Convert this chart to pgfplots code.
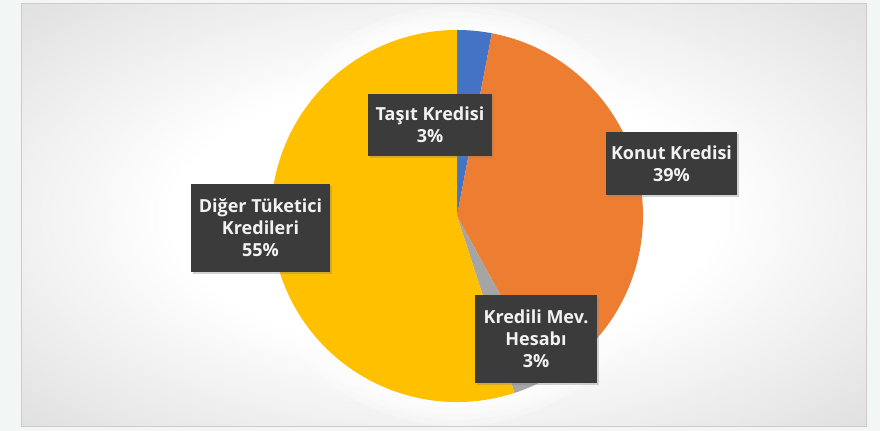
\documentclass[border=0pt]{standalone}
\usepackage{pgfplots}
\usepackage{pgfplotstable}
\pgfplotsset{compat=1.18}
\usepackage{fontspec}
\setmainfont{Open Sans}
\usetikzlibrary{shadows}

\definecolor{outerbg}{HTML}{F2F7F6}
\definecolor{tasit}{HTML}{4472C4}
\definecolor{konut}{HTML}{ED7D31}
\definecolor{kmh}{HTML}{A5A5A5}
\definecolor{diger}{HTML}{FFC000}
\definecolor{lblbox}{HTML}{3B3B3B}
\definecolor{lbltxt}{HTML}{F2F2F2}

\pgfdeclareradialshading{bgshade}{\pgfpoint{0bp}{0bp}}{%
  color(0bp)=(white); color(16bp)=(white); color(48bp)=(black!20); color(71bp)=(black!27)}

% shares in percent, clockwise from 12 o'clock
\pgfplotstableread{
name share
Tasit 3
Konut 39
KMH 3
Diger 55
}\pietable

\begin{document}
\begin{tikzpicture}
\pgfplotstablegetelem{0}{share}\of\pietable \let\sA\pgfplotsretval
\pgfplotstablegetelem{1}{share}\of\pietable \let\sB\pgfplotsretval
\pgfplotstablegetelem{2}{share}\of\pietable \let\sC\pgfplotsretval
\pgfplotstablegetelem{3}{share}\of\pietable \let\sD\pgfplotsretval
\pgfmathsetmacro\aA{90}
\pgfmathsetmacro\aB{\aA-3.6*\sA}
\pgfmathsetmacro\aC{\aB-3.6*\sB}
\pgfmathsetmacro\aD{\aC-3.6*\sC}
\pgfmathsetmacro\aE{\aD-3.6*\sD}
\begin{axis}[
    width=440pt, height=215.5pt,
    scale only axis,
    xmin=0, xmax=880, ymin=0, ymax=431,
    hide axis, clip=false,
]
  % background
  \fill[outerbg] (axis cs:0,0) rectangle (axis cs:880,431);
  \shade[shading=bgshade] (axis cs:21,4) rectangle (axis cs:866,427);
  \draw[black!20, line width=0.5pt] (axis cs:21,4) rectangle (axis cs:866,427);

  % pie
  \def\pc{axis cs:457,215}
  \def\pr{93pt}
  % soft glow round the pie
  \fill[white, opacity=0.3] (\pc) circle[radius=105pt];
  \fill[white, opacity=0.3] (\pc) circle[radius=102pt];
  \fill[white, opacity=0.3] (\pc) circle[radius=99pt];
  \fill[white, opacity=0.3] (\pc) circle[radius=96pt];
  \fill[tasit] (\pc) -- ([shift={(\aA:\pr)}]\pc) arc[start angle=\aA, end angle=\aB, radius=\pr] -- cycle;
  \fill[konut] (\pc) -- ([shift={(\aB:\pr)}]\pc) arc[start angle=\aB, end angle=\aC, radius=\pr] -- cycle;
  \fill[kmh]   (\pc) -- ([shift={(\aC:\pr)}]\pc) arc[start angle=\aC, end angle=\aD, radius=\pr] -- cycle;
  \fill[diger] (\pc) -- ([shift={(\aD:\pr)}]\pc) arc[start angle=\aD, end angle=\aE, radius=\pr] -- cycle;

  % labels
  \tikzset{lbl/.style={fill=lblbox, text=lbltxt, align=center, inner sep=0pt,
      font=\bfseries\fontsize{9}{11}\selectfont,
      drop shadow={shadow xshift=1.2pt, shadow yshift=-1.2pt, opacity=0.35}}}
  \node[lbl, minimum width=62pt, minimum height=31pt] at (axis cs:430,306) {Taşıt Kredisi\\3\%};
  \node[lbl, minimum width=65.5pt, minimum height=31.5pt] at (axis cs:671.5,267.5) {Konut Kredisi\\39\%};
  \node[lbl, minimum width=69.5pt, minimum height=44pt] at (axis cs:260.5,203) {Diğer Tüketici\\Kredileri\\55\%};
  \node[lbl, minimum width=61pt, minimum height=44pt] at (axis cs:536,92) {Kredili Mev.\\Hesabı\\3\%};
\end{axis}
\end{tikzpicture}
\end{document}
